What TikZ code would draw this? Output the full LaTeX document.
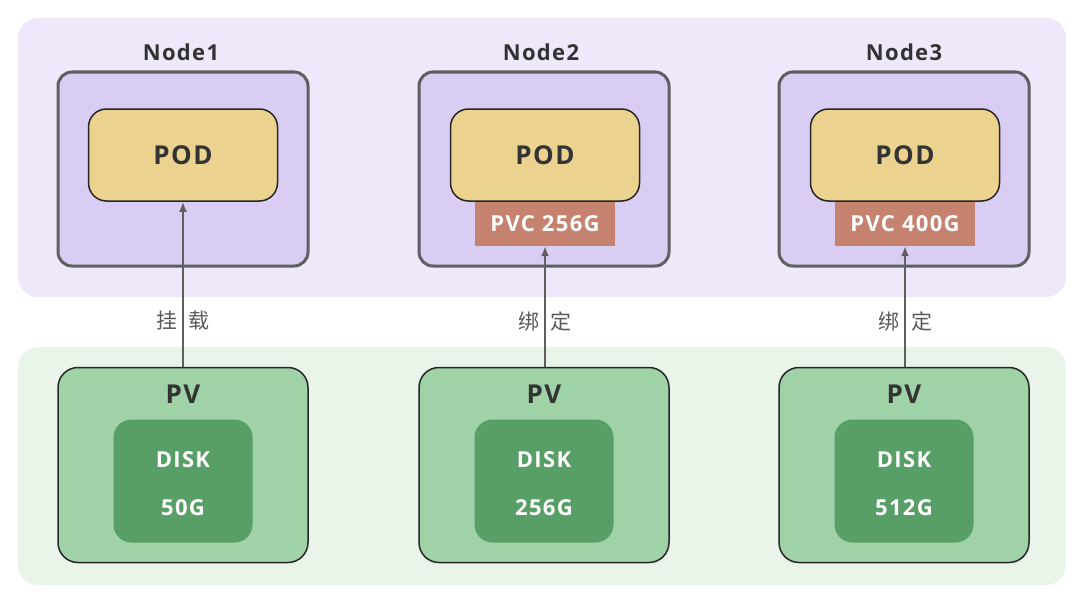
\documentclass[tikz,border=0pt]{standalone}
\usepackage{fontspec}
\setmainfont{Open Sans}[LetterSpace=6]
\newfontfamily\cjk{Noto Sans CJK SC}
\usetikzlibrary{arrows.meta,positioning}
\definecolor{topbg}{HTML}{EFE7FA}
\definecolor{botbg}{HTML}{EAF5EA}
\definecolor{nodefill}{HTML}{DACDF3}
\definecolor{podfill}{HTML}{EBD28F}
\definecolor{pvcfill}{HTML}{C5836F}
\definecolor{pvfill}{HTML}{A0D2A8}
\definecolor{diskfill}{HTML}{589E67}
\definecolor{edgegray}{HTML}{5F5F5F}

\begin{document}
\begin{tikzpicture}[
    x=1pt, y=-1pt,
    font=\bfseries,
    >={Latex[length=10pt,width=8pt]},
    area/.style={
        rounded corners=20pt,
        draw=none
    },
    host/.style={
        rectangle,
        rounded corners=14pt,
        draw=edgegray,
        line width=3pt,
        fill=nodefill,
        minimum width=250pt,
        minimum height=194pt
    },
    hostname/.style={
        font=\fontsize{22}{24}\selectfont\bfseries,
        text=black!80
    },
    pod/.style={
        rectangle,
        rounded corners=18pt,
        draw=black!85,
        line width=1.5pt,
        fill=podfill,
        minimum width=189pt,
        minimum height=92pt,
        font=\fontsize{26}{28}\selectfont\bfseries,
        text=black!80
    },
    pvc/.style={
        rectangle,
        fill=pvcfill,
        text=white,
        minimum width=140pt,
        minimum height=44pt,
        font=\fontsize{22}{24}\selectfont\bfseries
    },
    pv/.style={
        rectangle,
        rounded corners=20pt,
        draw=black!85,
        line width=1.5pt,
        fill=pvfill,
        minimum width=250pt,
        minimum height=195pt
    },
    pvname/.style={
        font=\fontsize{26}{28}\selectfont\bfseries,
        text=black!80
    },
    disk/.style={
        rectangle,
        rounded corners=18pt,
        fill=diskfill,
        minimum width=139pt,
        minimum height=123pt
    },
    disktext/.style={
        text=white,
        font=\fontsize{22}{24}\selectfont\bfseries
    },
    link/.style={
        ->,
        draw=edgegray,
        line width=2pt
    },
    linklabel/.style={
        text=black!65,
        font=\fontsize{21}{24}\selectfont\cjk
    }
  ]
  \useasboundingbox (0,0) rectangle (1073,594);

  % background areas
  \fill [area, fill=topbg] (18,18) rectangle (1066,297);
  \fill [area, fill=botbg] (18,347) rectangle (1066,585);

  % nodes with pods
  \node [host] (node1) at (183,169) {};
  \node [host] (node2) at (544,169) {};
  \node [host] (node3) at (904,169) {};

  \node [hostname] (name1) at (181,52) {Node1};
  \node [hostname] (name2) at (541,52) {Node2};
  \node [hostname] (name3) at (904,52) {Node3};

  \node [pod] (pod1) at (183,155) {POD};
  \node [pod] (pod2) at (545,155) {POD};
  \node [pod] (pod3) at (905,155) {POD};

  \node [pvc, below=0pt of pod2] (pvc2) {PVC 256G};
  \node [pvc, below=0pt of pod3] (pvc3) {PVC 400G};

  % persistent volumes
  \node [pv] (pv1) at (183,465) {};
  \node [pv] (pv2) at (544,465) {};
  \node [pv] (pv3) at (904,465) {};

  \node [pvname] (pvname1) at (183,394) {PV};
  \node [pvname] (pvname2) at (544,394) {PV};
  \node [pvname] (pvname3) at (904,394) {PV};

  \node [disk] (disk1) at (183,481) {};
  \node [disk] (disk2) at (544,481) {};
  \node [disk] (disk3) at (904,481) {};

  \node [disktext] (size1) at (183,508) {50G};
  \node [disktext] (size2) at (544,508) {256G};
  \node [disktext] (size3) at (904,508) {512G};
  \node [disktext] (dname1) at (183,460) {DISK};
  \node [disktext] (dname2) at (544,460) {DISK};
  \node [disktext] (dname3) at (904,460) {DISK};

  % links
  \draw [link] (pv1.north -| pod1) -- (pod1.south);
  \draw [link] (pv2.north -| pvc2) -- (pvc2.south);
  \draw [link] (pv3.north -| pvc3) -- (pvc3.south);

  \node [linklabel] (mount1) at (183,321) {挂\hspace{12pt}载};
  \node [linklabel] (bind2) at (545,321) {绑\hspace{12pt}定};
  \node [linklabel] (bind3) at (905,321) {绑\hspace{12pt}定};

\end{tikzpicture}
\end{document}
